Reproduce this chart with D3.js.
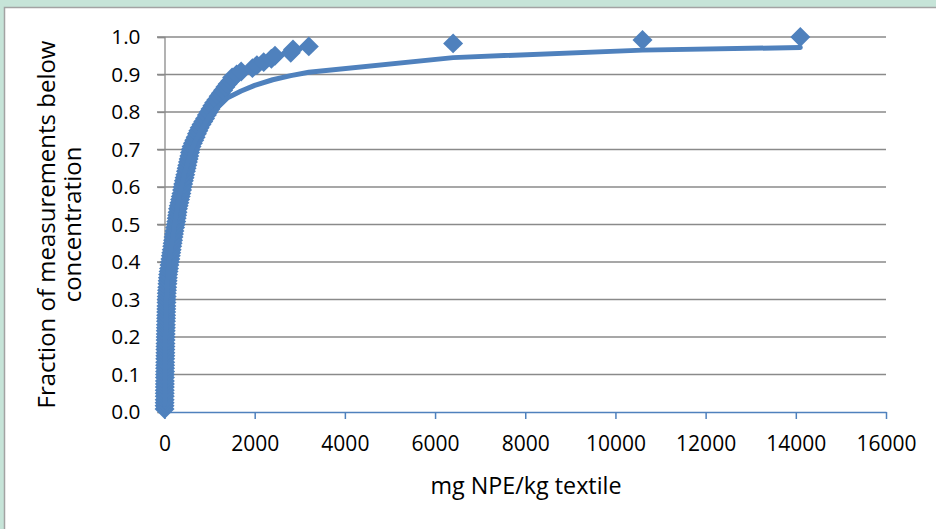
<!DOCTYPE html>
<html><head><meta charset="utf-8">
<script src="https://cdn.jsdelivr.net/npm/d3@7"></script>
<style>
html,body{margin:0;padding:0;background:#c6e4d8;}
svg{display:block;}
text{font-family:"Open Sans",Lato,sans-serif;fill:#000;}
</style></head><body>
<svg id="c" width="936" height="529"></svg>
<script>
// Measured concentrations (mg NPE/kg textile), sorted
const concentration = [
  1,2,3,4,5,5,6,7,8,9,10,11,
  12,13,14,15,16,18,19,20,21,22,24,25,
  27,28,30,31,33,35,36,38,40,42,44,46,
  48,50,55,60,65,70,75,80,90,100,110,120,
  130,140,150,160,170,180,190,200,210,220,235,250,
  260,270,280,290,300,315,330,345,360,375,390,400,
  415,430,445,460,475,490,505,520,535,550,565,580,
  600,630,660,690,720,750,780,820,860,900,940,980,
  1020,1060,1100,1150,1200,1250,1300,1350,1400,1460,1500,1600,
  1700,1950,2050,2200,2370,2450,2800,2850,3200,6400,10600,14100
];
// Fraction of measurements below concentration
const fraction = [
  .008,.017,.025,.033,.042,.050,.058,.067,.075,.083,.092,.100,
  .108,.117,.125,.133,.142,.150,.158,.167,.175,.183,.192,.200,
  .208,.217,.225,.233,.242,.250,.258,.267,.275,.283,.292,.300,
  .308,.317,.325,.333,.342,.350,.358,.367,.375,.383,.392,.400,
  .408,.417,.425,.433,.442,.450,.458,.467,.475,.483,.492,.500,
  .508,.517,.525,.533,.542,.550,.558,.567,.575,.583,.592,.600,
  .608,.617,.625,.633,.642,.650,.658,.667,.675,.683,.692,.700,
  .708,.717,.725,.733,.742,.750,.758,.767,.775,.783,.792,.800,
  .808,.817,.825,.833,.842,.850,.858,.867,.875,.883,.892,.900,
  .908,.917,.925,.933,.942,.950,.958,.967,.975,.983,.992,1.000
];
// Fitted distribution curve
const fitConcentration = [0,20,50,100,200,300,450,600,800,1000,1200,1400,1700,2000,2400,2800,3200,6400,10600,14100];
const fitFraction      = [0.02,0.2,0.33,0.4,0.48,0.56,0.64,0.7,0.75,0.79,0.815,0.838,0.856,0.871,0.886,0.897,0.906,0.945,0.965,0.972];

const xTicks = [0,2000,4000,6000,8000,10000,12000,14000,16000];
const yTicks = [0,0.1,0.2,0.3,0.4,0.5,0.6,0.7,0.8,0.9,1.0];
const xTitle = "mg NPE/kg textile";
const yTitleLines = ["Fraction of measurements below","concentration"];

const blue = "#4f81bd";
const svg = d3.select("#c");

// font size that makes a text element a target width
function sizeForWidth(el, target){
  const base = 20;
  el.setAttribute("font-size", base);
  const w = el.getComputedTextLength();
  return +(base*target/w).toFixed(2);
}

// inner white panel
svg.append("rect").attr("x",4.5).attr("y",7.5).attr("width",940).attr("height",530)
  .attr("fill","#fff").attr("stroke","#a3a3a3").attr("stroke-width",1.5);

const x = d3.scaleLinear().domain([0,16000]).range([164.5,886]);
const y = d3.scaleLinear().domain([0,1]).range([412,37]);

// gridlines
svg.append("g").selectAll("line").data(yTicks.slice(1)).join("line")
  .attr("x1",157).attr("x2",886).attr("y1",d=>y(d)).attr("y2",d=>y(d))
  .attr("stroke","#8a8a8a").attr("stroke-width",1.3);

// y axis
const ya = svg.append("g").attr("transform",`translate(${x(0)},0)`)
  .call(d3.axisLeft(y).tickValues(yTicks).tickFormat(d3.format(".1f")).tickSize(7).tickPadding(17));
ya.select(".domain").attr("stroke","#8a8a8a").attr("stroke-width",1.3);
ya.selectAll(".tick line").attr("stroke","#8a8a8a").attr("stroke-width",1.3);
ya.selectAll("text").attr("font-family","Open Sans").attr("fill","#000").attr("font-size",20.8);

// x axis
const xa = svg.append("g").attr("transform",`translate(0,${y(0)})`)
  .call(d3.axisBottom(x).tickValues(xTicks).tickFormat(d3.format("d")).tickSize(7).tickSizeOuter(0).tickPadding(0));
xa.select(".domain").attr("stroke",blue).attr("stroke-width",1.5);
xa.selectAll(".tick line").attr("stroke",blue).attr("stroke-width",1.5);
xa.selectAll("text").attr("font-family","Open Sans").attr("fill","#000").attr("font-size",21)
  .attr("dy",null).attr("y",38.5);

// markers
const pts = concentration.map((c,i)=>({c, f:fraction[i]}));
svg.append("g").selectAll("path").data(pts).join("path")
  .attr("d", d3.symbol(d3.symbolSquare, 200)())
  .attr("transform", d=>`translate(${x(d.c)},${y(d.f)}) rotate(45)`)
  .attr("fill", blue);

// fitted line
const fit = fitConcentration.map((c,i)=>({c, f:fitFraction[i]}));
svg.append("path").datum(fit)
  .attr("d", d3.line().x(d=>x(d.c)).y(d=>y(d.f)))
  .attr("fill","none").attr("stroke",blue).attr("stroke-width",5).attr("stroke-linecap","round").attr("stroke-linejoin","round");

// titles
const xt = svg.append("text").attr("x",526).attr("y",494).attr("text-anchor","middle").text(xTitle);
xt.attr("font-size", sizeForWidth(xt.node(), 191));
const yEls = yTitleLines.map((t,i)=>svg.append("text")
  .attr("transform",`translate(${55+i*26},224.5) rotate(-90)`)
  .attr("text-anchor","middle").text(t));
const ySize = sizeForWidth(yEls[0].node(), 368);
yEls.forEach(e=>e.attr("font-size", ySize));
</script></body></html>
